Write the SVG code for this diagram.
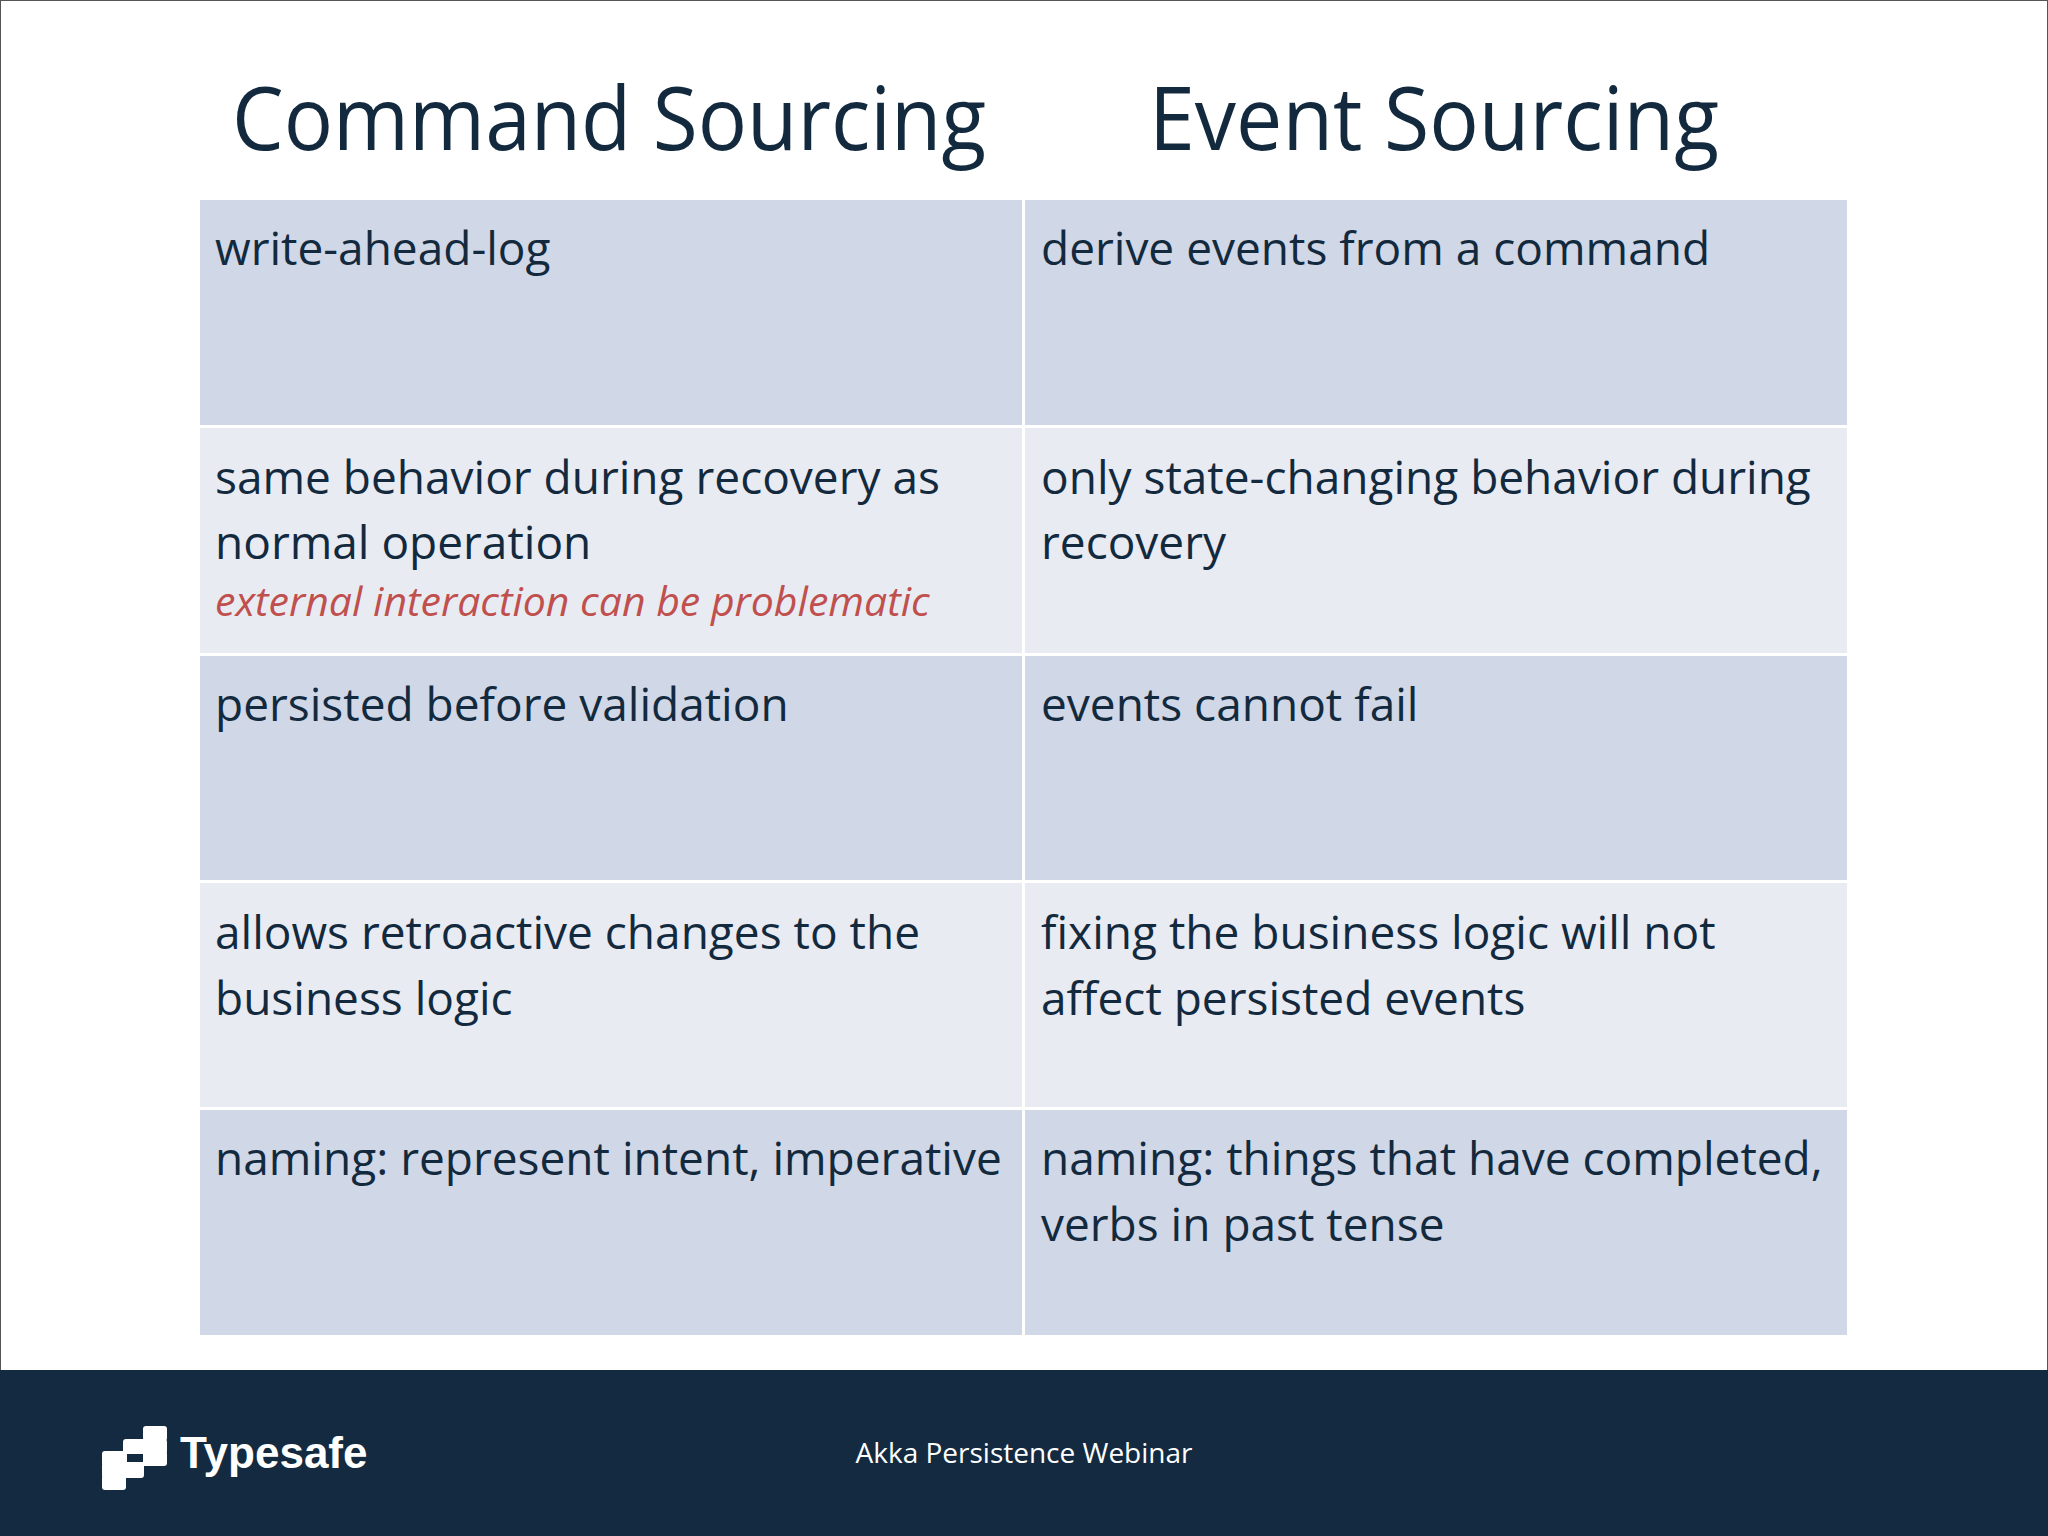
<svg xmlns="http://www.w3.org/2000/svg" width="2048" height="1536" viewBox="0 0 2048 1536">
<style>
.t{font-family:"Open Sans","Noto Sans",sans-serif;fill:#132a3e}
.h{font-size:88px}
.b{font-size:46px}
.d{fill:#d0d7e6}.l{fill:#e9ebf3}
</style>
<rect width="2048" height="1536" fill="#fff"/>
<rect x="0.5" y="0.5" width="2047" height="1535" fill="none" stroke="#555"/>
<text class="t h" x="232" y="150" textLength="754" lengthAdjust="spacingAndGlyphs">Command Sourcing</text>
<text class="t h" x="1149" y="150" textLength="570" lengthAdjust="spacingAndGlyphs">Event Sourcing</text>
<g id="cells">
<rect class="d" x="200" y="200" width="822" height="225"/>
<rect class="d" x="1025" y="200" width="822" height="225"/>
<rect class="l" x="200" y="428" width="822" height="225"/>
<rect class="l" x="1025" y="428" width="822" height="225"/>
<rect class="d" x="200" y="656" width="822" height="224"/>
<rect class="d" x="1025" y="656" width="822" height="224"/>
<rect class="l" x="200" y="883" width="822" height="224"/>
<rect class="l" x="1025" y="883" width="822" height="224"/>
<rect class="d" x="200" y="1110" width="822" height="225"/>
<rect class="d" x="1025" y="1110" width="822" height="225"/>
</g>
<g class="t b">
<text x="215" y="265">write-ahead-log</text>
<text x="1041" y="265">derive events from a command</text>
<text x="215" y="494">same behavior during recovery as</text>
<text x="215" y="559">normal operation</text>
<text x="215" y="616" style="font-size:41px;font-style:italic;fill:#c0504d">external interaction can be problematic</text>
<text x="1041" y="494">only state-changing behavior during</text>
<text x="1041" y="559">recovery</text>
<text x="215" y="721">persisted before validation</text>
<text x="1041" y="721">events cannot fail</text>
<text x="215" y="949">allows retroactive changes to the</text>
<text x="215" y="1015">business logic</text>
<text x="1041" y="949">fixing the business logic will not</text>
<text x="1041" y="1015">affect persisted events</text>
<text x="215" y="1175">naming: represent intent, imperative</text>
<text x="1041" y="1175">naming: things that have completed,</text>
<text x="1041" y="1241">verbs in past tense</text>
</g>
<rect x="0" y="1370" width="2048" height="166" fill="#132a40"/>
<g id="logo" fill="#fff">
<rect x="143" y="1426" width="24" height="15" rx="3"/>
<rect x="123" y="1439" width="44" height="15" rx="3"/>
<rect x="102" y="1451" width="65" height="15" rx="3"/>
<rect x="102" y="1463" width="42" height="15" rx="3"/>
<rect x="102" y="1475" width="24" height="15" rx="3"/>
<rect x="127" y="1454" width="16" height="8" fill="#132a40"/>
<text x="180" y="1468" style="font-family:'Liberation Sans',Arial,sans-serif;font-weight:bold;font-size:44px">Typesafe</text>
</g>
<text x="1024" y="1463" text-anchor="middle" style="font-family:'Open Sans','Noto Sans',sans-serif;font-size:28px;fill:#fff">Akka Persistence Webinar</text>
</svg>
